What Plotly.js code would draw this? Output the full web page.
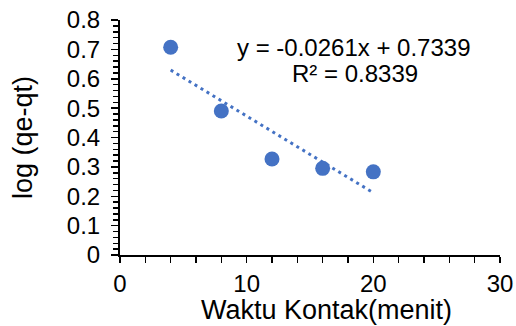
<!DOCTYPE html>
<html>
<head>
<meta charset="utf-8">
<script src="https://cdn.plot.ly/plotly-3.0.1.min.js"></script>
<style>html,body{margin:0;padding:0;background:#fff;}#chart{width:516px;height:326px;}</style>
</head>
<body>
<div id="chart"></div>
<script>
var waktu = [4, 8, 12, 16, 20];
var logQeQt = [0.707, 0.490, 0.327, 0.295, 0.283];
var slope = -0.0261;
var intercept = 0.7339;
var r2 = 0.8339;
var eqText = "y = " + slope.toFixed(4) + "x + " + intercept.toFixed(4);
var r2Text = "R² = " + r2.toFixed(4);
var xTitle = "Waktu Kontak(menit)";
var yTitle = "log (qe-qt)";

var trendX = [Math.min.apply(null, waktu), Math.max.apply(null, waktu)];
var trendY = trendX.map(function (x) { return slope * x + intercept; });

var blue = "#4472C4";
var font = "Liberation Sans, Arial, sans-serif";

var data = [
  {x: trendX, y: trendY, type: "scatter", mode: "lines",
   line: {color: blue, width: 3, dash: "3px,4px"}, hoverinfo: "skip"},
  {x: waktu, y: logQeQt, type: "scatter", mode: "markers",
   marker: {color: blue, size: 15}}
];

var L = 120, R = 16, T = 20, B = 71, W = 516, H = 326;
var plotW = W - L - R, plotH = H - T - B;
function px(x) { return (x - L) / plotW; }
function py(y) { return 1 - (y - T) / plotH; }

var layout = {
  width: W, height: H,
  margin: {l: L, r: R, t: T, b: B},
  paper_bgcolor: "#fff", plot_bgcolor: "#fff",
  showlegend: false,
  font: {family: font, color: "#000", size: 24},
  xaxis: {
    range: [0, 30], dtick: 10, tick0: 0,
    showgrid: false, zeroline: false,
    showline: true, linecolor: "#000", linewidth: 2,
    ticks: "outside", ticklen: 6, tickwidth: 1.5, tickcolor: "#000",
    minor: {dtick: 2, ticks: "outside", ticklen: 6, tickwidth: 1.5, tickcolor: "#000", showgrid: false},
    tickfont: {size: 24, family: font}
  },
  yaxis: {
    range: [0, 0.8], dtick: 0.1, tick0: 0,
    showgrid: false, zeroline: false,
    showline: true, linecolor: "#000", linewidth: 2,
    ticks: "outside", ticklen: 7, tickwidth: 1.5, tickcolor: "#000",
    minor: {dtick: 0.02, ticks: "outside", ticklen: 5, tickwidth: 1.5, tickcolor: "#000", showgrid: false},
    tickfont: {size: 24, family: font},
    ticklabelstandoff: 6,
    title: {text: yTitle, font: {size: 27, family: font}, standoff: 26}
  },
  annotations: [
    {x: px(354), y: py(47), xref: "paper", yref: "paper", text: eqText, showarrow: false,
     font: {size: 24, family: font}, xanchor: "center", yanchor: "middle"},
    {x: px(355), y: py(73), xref: "paper", yref: "paper", text: r2Text, showarrow: false,
     font: {size: 24, family: font}, xanchor: "center", yanchor: "middle"},
    {x: px(326), y: py(310), xref: "paper", yref: "paper", text: xTitle, showarrow: false,
     font: {size: 27, family: font}, xanchor: "center", yanchor: "middle"}
  ]
};

Plotly.newPlot("chart", data, layout, {staticPlot: true});
</script>
</body>
</html>
